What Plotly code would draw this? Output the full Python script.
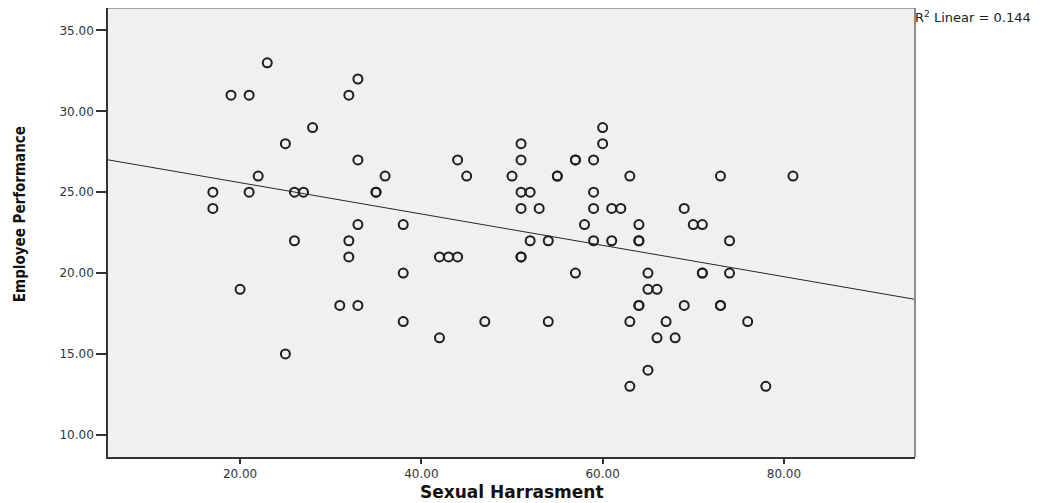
import plotly.graph_objects as go

# ---- data ----
sexual_harassment = [
    23, 33, 19, 21, 32, 28, 25, 33, 22, 36, 17, 21, 26, 27, 35, 35, 17, 33, 38, 26,
    32, 32, 38, 20, 31, 33, 38, 25, 60, 51, 60, 44, 51, 57, 57, 59, 45, 50, 55, 55,
    63, 51, 52, 59, 51, 53, 59, 61, 62, 58, 64, 52, 54, 59, 61, 64, 64, 42, 43, 44,
    51, 51, 57, 65, 65, 66, 64, 64, 47, 54, 63, 67, 42, 66, 68, 65, 63, 73, 81, 69,
    70, 71, 74, 71, 71, 74, 69, 73, 73, 76, 78,
]
employee_performance = [
    33, 32, 31, 31, 31, 29, 28, 27, 26, 26, 25, 25, 25, 25, 25, 25, 24, 23, 23, 22,
    22, 21, 20, 19, 18, 18, 17, 15, 29, 28, 28, 27, 27, 27, 27, 27, 26, 26, 26, 26,
    26, 25, 25, 25, 24, 24, 24, 24, 24, 23, 23, 22, 22, 22, 22, 22, 22, 21, 21, 21,
    21, 21, 20, 20, 19, 19, 18, 18, 17, 17, 17, 17, 16, 16, 16, 14, 13, 26, 26, 24,
    23, 23, 22, 20, 20, 20, 18, 18, 18, 17, 13,
]
fit_intercept = 27.53
fit_slope = -0.0969
r2_text = "R<sup>2</sup> Linear = 0.144"
x_tick_values = [20, 40, 60, 80]
x_tick_labels = ["20.00", "40.00", "60.00", "80.00"]
y_tick_values = [10, 15, 20, 25, 30, 35]
y_tick_labels = ["10.00", "15.00", "20.00", "25.00", "30.00", "35.00"]
x_range = [5.43, 94.46]
y_range = [8.63, 36.39]
x_title = "Sexual Harrasment"
y_title = "Employee Performance"

fig = go.Figure()

fig.add_trace(go.Scatter(
    x=x_range,
    y=[fit_intercept + fit_slope * v for v in x_range],
    mode="lines",
    line=dict(color="#262626", width=1),
    hoverinfo="skip",
    showlegend=False,
))

fig.add_trace(go.Scatter(
    x=sexual_harassment,
    y=employee_performance,
    mode="markers",
    marker=dict(symbol="circle-open", size=9, color="#1e1e1e", line=dict(width=2, color="#1e1e1e")),
    showlegend=False,
))

tick_font = dict(family="DejaVu Sans, Liberation Sans, Arial", size=12, color="#333333")

fig.update_layout(
    width=1053,
    height=495,
    margin=dict(l=100, r=146, t=0, b=46),
    paper_bgcolor="white",
    plot_bgcolor="#f0f0f0",
    xaxis=dict(
        range=x_range,
        tickvals=x_tick_values,
        ticktext=x_tick_labels,
        ticks="outside",
        ticklen=5,
        tickwidth=1.5,
        tickcolor="#333333",
        showline=True,
        linecolor="#333333",
        linewidth=1.5,
        showgrid=False,
        zeroline=False,
        tickfont=tick_font,
    ),
    yaxis=dict(
        range=y_range,
        tickvals=y_tick_values,
        ticktext=y_tick_labels,
        ticks="outside",
        ticklen=10,
        tickwidth=1.5,
        tickcolor="#333333",
        showline=True,
        linecolor="#333333",
        linewidth=1.5,
        showgrid=False,
        zeroline=False,
        tickfont=tick_font,
    ),
    shapes=[
        dict(type="line", xref="paper", yref="paper", x0=0, x1=1, y0=1, y1=1,
             line=dict(color="#8c8c8c", width=1.5)),
        dict(type="line", xref="paper", yref="paper", x0=1, x1=1, y0=0, y1=1,
             line=dict(color="#8c8c8c", width=2)),
    ],
    annotations=[
        dict(text=r2_text, xref="paper", yref="paper", x=0.9975, y=0.98,
             xanchor="left", yanchor="middle", showarrow=False,
             font=dict(family="DejaVu Sans, Liberation Sans, Arial", size=13, color="#222222")),
        dict(text=y_title, xref="paper", yref="paper", x=-0.109, y=0.541,
             xanchor="center", yanchor="middle", textangle=-90, showarrow=False,
             font=dict(family="Liberation Sans Narrow, DejaVu Sans Condensed, Liberation Sans, Arial",
                       size=15, color="#111111", weight="bold")),
        dict(text=x_title, xref="paper", yref="paper", x=0.5, y=-0.077,
             xanchor="center", yanchor="middle", showarrow=False,
             font=dict(family="DejaVu Sans, Liberation Sans, Arial", size=17,
                       color="#111111", weight="bold")),
    ],
)

fig.write_html("out.html")
